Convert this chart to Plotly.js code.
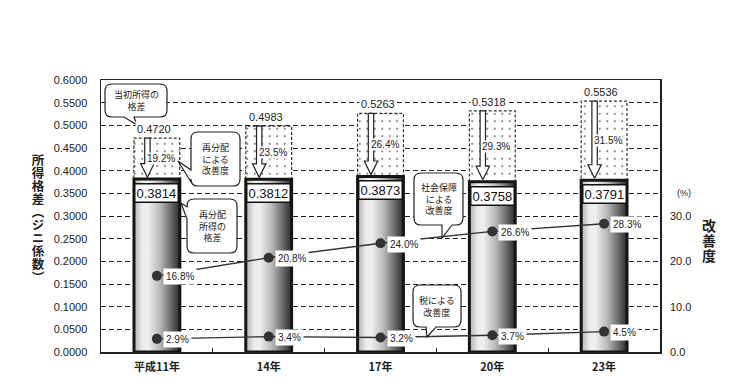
<!DOCTYPE html>
<html>
<head>
<meta charset="utf-8">
<script src="https://cdn.plot.ly/plotly-3.0.1.min.js"></script>
<style>html,body{margin:0;padding:0;background:#fff;}#chart{width:750px;height:385px;}</style>
</head>
<body>
<div id="chart"></div>
<script>
// ---- data ----
const years = ['平成11年', '14年', '17年', '20年', '23年'];
const initialGini = [0.4720, 0.4983, 0.5263, 0.5318, 0.5536];
const redistGini = [0.3814, 0.3812, 0.3873, 0.3758, 0.3791];
const redistImprove = [19.2, 23.5, 26.4, 29.3, 31.5];
const socialImprove = [16.8, 20.8, 24.0, 26.6, 28.3];
const taxImprove = [2.9, 3.4, 3.2, 3.7, 4.5];
const leftTicks = [0, 0.05, 0.1, 0.15, 0.2, 0.25, 0.3, 0.35, 0.4, 0.45, 0.5, 0.55, 0.6];
const rightTicks = [0, 10, 20, 30];
const leftTitle = '所得格差（ジニ係数）';
const rightTitle = '改善度';

// ---- geometry / style ----
const L = 101, R = 660, T = 80, B = 352;
const W = 750, H = 385;
const HW = 0.205;           // half bar width (category units)
const FONT = 'Liberation Sans, Arial, "Noto Sans CJK JP", sans-serif';
const JP = '"Noto Sans CJK JP", sans-serif';
const px = x => (x - L) / (R - L);
const py = y => (B - y) / (B - T);
const xs = years.map((_, i) => i);

const traces = [];

// dotted boxes (redistribution improvement)
const bx = [], by = [];
xs.forEach(i => {
  const a = i - HW, b = i + HW;
  bx.push(a, b, b, a, a, null);
  by.push(redistGini[i], redistGini[i], initialGini[i], initialGini[i], redistGini[i], null);
});
traces.push({
  x: bx, y: by, mode: 'lines', fill: 'toself', fillcolor: 'rgba(0,0,0,0)',
  fillpattern: {shape: '.', fgcolor: '#555', bgcolor: '#ffffff', size: 7.5, solidity: 0.045, fillmode: 'replace'},
  line: {color: '#333', width: 1.2, dash: '3px,2px'}, hoverinfo: 'skip'
});

// gradient bars (redistributed income gini)
xs.forEach(i => {
  const a = i - HW, b = i + HW;
  traces.push({
    x: [a, b, b, a, a], y: [0, 0, redistGini[i], redistGini[i], 0],
    mode: 'lines', fill: 'toself',
    fillgradient: {type: 'horizontal', colorscale: [[0, '#b0b0b0'], [0.18, '#ebebeb'], [0.3, '#efefef'], [0.55, '#bdbdbd'], [0.8, '#6e6e6e'], [1, '#2a2a2a']]},
    line: {color: '#151515', width: 3}, hoverinfo: 'skip'
  });
});

// hollow down arrows
const ax = [], ay = [];
const SW = 0.024, AHW = 0.06, HL = 0.03, OFF = -0.085;
xs.forEach(i => {
  const c = i + OFF, top = initialGini[i], tip = redistGini[i] + 0.004, hb = tip + HL;
  ax.push(c - SW, c + SW, c + SW, c + AHW, c, c - AHW, c - SW, c - SW, null);
  ay.push(top, top, hb, hb, tip, hb, hb, top, null);
});
traces.push({
  x: ax, y: ay, mode: 'lines', fill: 'toself', fillcolor: '#ffffff',
  line: {color: '#222', width: 1.2}, hoverinfo: 'skip'
});

// improvement lines (right axis)
const lineStyle = {color: '#333', width: 1.4};
const markerStyle = {color: '#333', size: 10};
traces.push({x: xs, y: socialImprove, yaxis: 'y2', mode: 'lines+markers', line: lineStyle, marker: markerStyle, hoverinfo: 'skip'});
traces.push({x: xs, y: taxImprove, yaxis: 'y2', mode: 'lines+markers', line: lineStyle, marker: markerStyle, hoverinfo: 'skip'});

// ---- annotations ----
const ann = [];
xs.forEach(i => {
  ann.push({x: i, y: initialGini[i], xref: 'x', yref: 'y', text: initialGini[i].toFixed(4), showarrow: false,
    xanchor: 'center', yanchor: 'bottom', yshift: 1, xshift: -3, bgcolor: '#fff', borderpad: 1,
    font: {size: 11, color: '#222', family: FONT}});
  ann.push({x: i, y: redistGini[i], xref: 'x', yref: 'y', text: redistGini[i].toFixed(4), showarrow: false,
    xanchor: 'center', yanchor: 'top', yshift: -4, bgcolor: '#fff', bordercolor: '#111', borderwidth: 1.5, borderpad: 1,
    font: {size: 13, color: '#111', family: FONT}});
  ann.push({x: i + 0.17, y: (redistGini[i] + initialGini[i]) / 2, xref: 'x', yref: 'y', text: redistImprove[i].toFixed(1) + '%', showarrow: false,
    xanchor: 'right', yanchor: 'middle', bgcolor: '#fff', borderpad: 0,
    font: {size: 10, color: '#222', family: FONT}});
  ann.push({x: i, y: socialImprove[i], xref: 'x', yref: 'y2', text: socialImprove[i].toFixed(1) + '%', showarrow: false,
    xanchor: 'left', yanchor: 'middle', xshift: 6, yshift: -1, bgcolor: '#fff', borderpad: 2,
    font: {size: 10, color: '#222', family: FONT}});
  ann.push({x: i, y: taxImprove[i], xref: 'x', yref: 'y2', text: taxImprove[i].toFixed(1) + '%', showarrow: false,
    xanchor: 'left', yanchor: 'middle', xshift: 6, yshift: -1, bgcolor: '#fff', borderpad: 2,
    font: {size: 10, color: '#222', family: FONT}});
});

// callouts (rounded boxes with tails), pixel geometry
const callouts = [
  {box: [105, 84, 167, 117], side: 'bottom', base: [124, 134], tip: [137, 125], text: '当初所得の<br>格差'},
  {box: [191, 132, 240, 186], side: 'left', base: [170, 182], tip: [178, 161], text: '再分配<br>による<br>改善度'},
  {box: [187, 199, 237, 253], side: 'left', base: [207, 219], tip: [181, 203], text: '再分配<br>所得の<br>格差'},
  {box: [414, 173, 463, 225], side: 'bottom', base: [442, 452], tip: [442, 238], text: '社会保障<br>による<br>改善度'},
  {box: [413, 285, 461, 327], side: 'bottom', base: [426, 436], tip: [427, 337], text: '税による<br>改善度'}
];
function P(x, y) { return px(x).toFixed(5) + ',' + py(y).toFixed(5); }
const shapes = callouts.map(c => {
  const [x0, y0, x1, y1] = c.box, r = 7;
  let d = 'M' + P(x0 + r, y0) + ' L' + P(x1 - r, y0) + ' Q' + P(x1, y0) + ' ' + P(x1, y0 + r) +
    ' L' + P(x1, y1 - r) + ' Q' + P(x1, y1) + ' ' + P(x1 - r, y1);
  if (c.side === 'bottom') d += ' L' + P(c.base[1], y1) + ' L' + P(c.tip[0], c.tip[1]) + ' L' + P(c.base[0], y1);
  d += ' L' + P(x0 + r, y1) + ' Q' + P(x0, y1) + ' ' + P(x0, y1 - r);
  if (c.side === 'left') d += ' L' + P(x0, c.base[1]) + ' L' + P(c.tip[0], c.tip[1]) + ' L' + P(x0, c.base[0]);
  d += ' L' + P(x0, y0 + r) + ' Q' + P(x0, y0) + ' ' + P(x0 + r, y0) + ' Z';
  ann.push({x: px((x0 + x1) / 2), y: py((y0 + y1) / 2), xref: 'paper', yref: 'paper', text: c.text, showarrow: false,
    xanchor: 'center', yanchor: 'middle', font: {size: 9, color: '#222', family: JP}});
  return {type: 'path', xref: 'paper', yref: 'paper', path: d, fillcolor: '#fff', line: {color: '#222', width: 1.2}, layer: 'above'};
});

// vertical axis titles (set to vertical writing mode after render)
const titleCenters = {};
titleCenters[leftTitle] = [38, 219, 0.6];
titleCenters[rightTitle] = [709, 241, 1];
ann.push({x: px(38), y: py(219), xref: 'paper', yref: 'paper', text: leftTitle, showarrow: false,
  xanchor: 'center', yanchor: 'middle', font: {size: 12.5, color: '#222', family: JP, weight: 'bold'}});
ann.push({x: px(709), y: py(241), xref: 'paper', yref: 'paper', text: rightTitle, showarrow: false,
  xanchor: 'center', yanchor: 'middle', font: {size: 14, color: '#222', family: JP, weight: 'bold'}});
ann.push({x: px(684), y: py(193), xref: 'paper', yref: 'paper', text: '(%)', showarrow: false,
  xanchor: 'center', yanchor: 'middle', font: {size: 9, color: '#222', family: FONT}});

const layout = {
  width: W, height: H,
  margin: {l: L, r: W - R, t: T, b: H - B, pad: 0},
  paper_bgcolor: '#fff', plot_bgcolor: '#fff',
  showlegend: false,
  font: {family: FONT, color: '#222'},
  xaxis: {
    range: [-0.5, 4.5], tickmode: 'array', tickvals: xs, ticktext: years,
    ticks: '', showgrid: false, zeroline: false,
    showline: true, mirror: true, linecolor: '#222', linewidth: 1.5,
    tickfont: {size: 11, family: JP, color: '#222', weight: 'bold'},
    ticklabelstandoff: 4,
    minor: {tickmode: 'array', tickvals: [0.5, 1.5, 2.5, 3.5], ticks: 'inside', ticklen: 4, tickcolor: '#222', tickwidth: 1, showgrid: false},
    fixedrange: true
  },
  yaxis: {
    range: [0, 0.6], tickmode: 'array', tickvals: leftTicks, ticktext: leftTicks.map(v => v.toFixed(4)),
    ticks: '', showgrid: true, gridcolor: '#222', gridwidth: 1, griddash: '5px,3px',
    zeroline: false, showline: true, mirror: true, linecolor: '#222', linewidth: 1.5,
    tickfont: {size: 11, color: '#222', family: FONT}, ticklabelstandoff: 10, fixedrange: true
  },
  yaxis2: {
    overlaying: 'y', side: 'right', range: [0, 60], tickmode: 'array', tickvals: rightTicks,
    ticktext: rightTicks.map(v => v.toFixed(1)), showgrid: false, zeroline: false, showline: false,
    ticks: '', tickfont: {size: 11, color: '#222', family: FONT}, ticklabelstandoff: 9, fixedrange: true
  },
  shapes: shapes,
  annotations: ann
};

Plotly.newPlot('chart', traces, layout, {staticPlot: true, displayModeBar: false}).then(gd => {
  const svgRect = gd.querySelector('.main-svg').getBoundingClientRect();
  gd.querySelectorAll('.annotation-text').forEach(t => {
    const s = t.textContent;
    const c = titleCenters[s];
    if (!c) return;
    const st = t.getAttribute('style') || '';
    t.setAttribute('style', st + ';writing-mode:vertical-rl;text-orientation:mixed;letter-spacing:' + c[2] + 'px;');
    t.setAttribute('dominant-baseline', 'central');
    const r = t.getBoundingClientRect();
    const dx = c[0] - ((r.left + r.right) / 2 - svgRect.left);
    const dy = c[1] - ((r.top + r.bottom) / 2 - svgRect.top);
    const cur = t.getAttribute('transform') || '';
    t.setAttribute('transform', cur + ' translate(' + dx.toFixed(2) + ',' + dy.toFixed(2) + ')');
  });
});
</script>
</body>
</html>
